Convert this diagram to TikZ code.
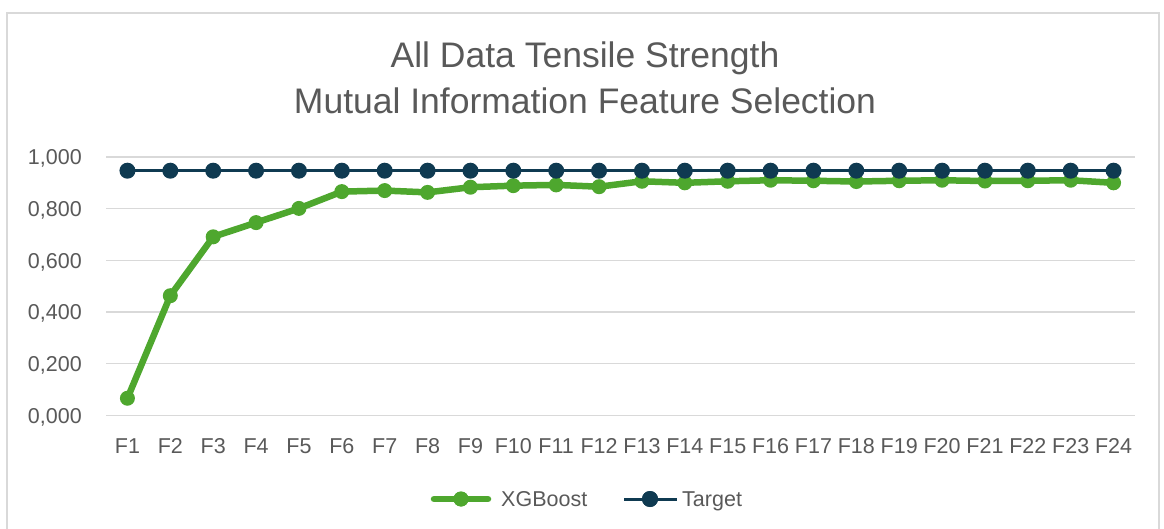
\documentclass[tikz,border=0pt]{standalone}
\usepackage{fontspec}
\setmainfont{Liberation Sans}
\usetikzlibrary{positioning}
\definecolor{xgbgreen}{HTML}{4EA72E}
\definecolor{targetblue}{HTML}{0F3A51}
\definecolor{gridgray}{HTML}{D9D9D9}
\definecolor{labelgray}{HTML}{595959}
\tikzstyle{frame} = [draw=gridgray, line width=1.3pt]
\tikzstyle{gridline} = [draw=gridgray, line width=1.5pt]
\tikzstyle{charttitle} = [anchor=base, inner sep=0, text=labelgray, font=\fontsize{35.5}{40}\selectfont]
\tikzstyle{ylabel} = [anchor=east, inner sep=0, text height=15.4pt, text depth=0pt, text=labelgray, font=\fontsize{21.5}{24}\selectfont]
\tikzstyle{xlabel} = [inner sep=0, text height=15.4pt, text depth=0pt, text=labelgray, font=\fontsize{21.5}{24}\selectfont]
\tikzstyle{legtext} = [anchor=west, inner sep=0, text height=15.4pt, text depth=0pt, text=labelgray, font=\fontsize{21.5}{24}\selectfont]
\tikzstyle{xgbline} = [draw=xgbgreen, line width=6.5pt, line join=round, line cap=round]
\tikzstyle{targetline} = [draw=targetblue, line width=3pt]
\tikzstyle{xgbdot} = [circle, fill=xgbgreen, minimum size=15pt, inner sep=0]
\tikzstyle{targetdot} = [circle, fill=targetblue, minimum size=16pt, inner sep=0]

\begin{document}
\begin{tikzpicture}[x=1pt, y=-1pt]
	\useasboundingbox (0,0) rectangle (1164,529);
	\draw [frame] (7,545) |- (1159,13) -- (1159,545);
	\node (title1) [charttitle] at (585,68) {All Data Tensile Strength};
	\node (title2) [charttitle] at (585,114) {Mutual Information Feature Selection};
	% grid and value axis
	\foreach \k/\lab in {0/{0,000},1/{0,200},2/{0,400},3/{0,600},4/{0,800},5/{1,000}} {
		\draw [gridline] (106,{415.3-51.66*\k}) -- (1135,{415.3-51.66*\k});
		\node (ylab\k) [ylabel] at (82,{415.3-51.66*\k}) {\lab};
	}
	% categories
	\foreach \i in {1,...,24}
		\node (xlab\i) [xlabel] at ({106+(\i-0.5)*42.875},446) {F\i};
	% XGBoost
	\foreach \v [count=\i] in {0.066,0.463,0.691,0.746,0.801,0.866,0.870,0.863,0.883,0.889,0.892,0.885,0.906,0.900,0.906,0.910,0.908,0.905,0.908,0.910,0.907,0.908,0.910,0.900}
		\coordinate (x\i) at ({106+(\i-0.5)*42.875},{415.3-258.3*\v});
	\draw [xgbline] (x1) \foreach \i in {2,...,24} {-- (x\i)};
	\foreach \i in {1,...,24}
		\node (xdot\i) [xgbdot] at (x\i) {};
	% Target
	\foreach \i in {1,...,24}
		\coordinate (t\i) at ({106+(\i-0.5)*42.875},170.7);
	\draw [targetline] (t1) -- (t24);
	\foreach \i in {1,...,24}
		\node (tdot\i) [targetdot] at (t\i) {};
	% legend
	\node (legxdot) [xgbdot] at (461,499) {};
	\draw [xgbline] ([xshift=-27pt]legxdot.center) -- ([xshift=27pt]legxdot.center);
	\node (legxdot2) [xgbdot] at (legxdot) {};
	\node (legxtext) [legtext, right=40pt of legxdot.center] {XGBoost};
	\node (legtdot) [targetdot] at (650,499) {};
	\draw [targetline] ([xshift=-26pt]legtdot.center) -- ([xshift=27pt]legtdot.center);
	\node (legtdot2) [targetdot] at (legtdot) {};
	\node (legttext) [legtext, right=32pt of legtdot.center] {Target};
\end{tikzpicture}
\end{document}
